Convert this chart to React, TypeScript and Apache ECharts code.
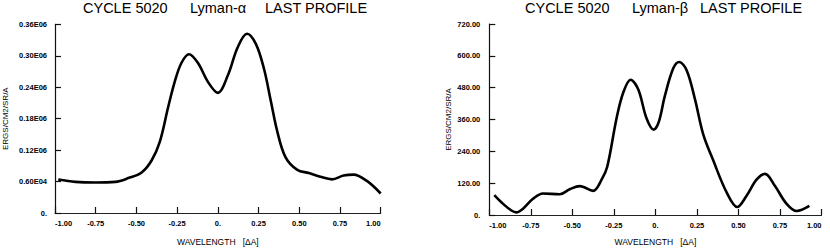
import React, { useEffect, useRef } from "react";
import * as echarts from "echarts";

const titleParts = ["CYCLE 5020", "LAST PROFILE"];
const lyaName = "Lyman-α";
const lybName = "Lyman-β";
const yName = "ERGS/CM2/SR/A";
const xName = "WAVELENGTH   [ΔA]";

const xTicks = [-1, -0.75, -0.5, -0.25, 0, 0.25, 0.5, 0.75, 1];
const xTickLabels = ["-1.00", "-0.75", "-0.50", "-0.25", "0.", "0.25", "0.50", "0.75", "1.00"];

const lyaTickLabels = ["0.", "0.60E04", "0.12E06", "0.18E06", "0.24E06", "0.30E06", "0.36E06"];
const lybTickLabels = ["0.", "120.00", "240.00", "360.00", "480.00", "600.00", "720.00"];

const lyaWave = [-0.98, -0.874, -0.752, -0.63, -0.549, -0.468, -0.407, -0.356, -0.305, -0.265, -0.224, -0.177, -0.122, -0.061, 0.0, 0.061, 0.122, 0.179, 0.234, 0.284, 0.325, 0.366, 0.416, 0.488, 0.559, 0.63, 0.701, 0.772, 0.833, 0.915, 1.0];
const lyaFlux = [64000, 59400, 58200, 59400, 66600, 77400, 100200, 136200, 202200, 250200, 286200, 303000, 286200, 250200, 229200, 262200, 316200, 342000, 322200, 274200, 214200, 154200, 106200, 82200, 76200, 69000, 64200, 71400, 73200, 61200, 37200];

const lybWave = [-0.97, -0.917, -0.867, -0.837, -0.797, -0.737, -0.677, -0.576, -0.516, -0.455, -0.375, -0.324, -0.29, -0.234, -0.194, -0.149, -0.103, -0.053, -0.01, 0.02, 0.057, 0.107, 0.143, 0.188, 0.238, 0.288, 0.348, 0.429, 0.493, 0.549, 0.61, 0.66, 0.72, 0.79, 0.85, 0.927];
const lybFlux = [75, 42, 17, 10, 24, 61, 81, 78, 97, 109, 91, 133, 182, 364, 461, 510, 473, 364, 322, 350, 449, 552, 577, 546, 437, 304, 206, 85, 30, 73, 134, 155, 109, 42, 15, 34];

const FONT = "'Liberation Sans', Arial, Helvetica, sans-serif";

function xLabel(v: number) {
  const i = xTicks.findIndex((t) => Math.abs(t - v) < 1e-6);
  return i >= 0 ? xTickLabels[i] : "";
}

function makeXAxis(gridIndex: number, gap: number) {
  return {
    type: "value",
    gridIndex,
    min: -1,
    max: 1,
    interval: 0.25,
    name: xName,
    nameLocation: "middle",
    nameGap: gap,
    nameTextStyle: { fontFamily: FONT, fontSize: 8.5, color: "#000" },
    axisLine: { show: true, onZero: false, lineStyle: { color: "#222", width: 1.2 } },
    axisTick: { show: true, inside: true, length: 6, lineStyle: { color: "#111", width: 1.2 } },
    axisLabel: {
      formatter: (v: number) => xLabel(v),
      fontFamily: FONT,
      fontSize: 7.5,
      fontWeight: "bold",
      color: "#000",
      margin: 6,
      alignMinLabel: "left",
      alignMaxLabel: "right",
    },
    splitLine: { show: false },
  };
}

function makeYAxis(gridIndex: number, max: number, labels: string[], gap: number, labelMargin: number) {
  const step = max / (labels.length - 1);
  return {
    type: "value",
    gridIndex,
    position: "left",
    min: 0,
    max,
    interval: step,
    name: yName,
    nameLocation: "middle",
    nameGap: gap,
    nameRotate: 90,
    nameTextStyle: { fontFamily: FONT, fontSize: 8, color: "#000" },
    axisLine: { show: true, onZero: false, lineStyle: { color: "#111", width: 1.2 } },
    axisTick: { show: true, inside: true, length: 6, lineStyle: { color: "#111", width: 1.2 } },
    axisLabel: {
      formatter: (v: number) => labels[Math.round(v / step)] ?? "",
      fontFamily: FONT,
      fontSize: 7.5,
      fontWeight: "bold",
      color: "#000",
      margin: labelMargin,
    },
    splitLine: { show: false },
  };
}

function titleTexts(x0: number, xMid: number, xEnd: number, mid: string) {
  const st = { fontFamily: FONT, fontSize: 14.5, fill: "#000" };
  return [
    { type: "text", left: x0, top: 0.5, style: { ...st, text: titleParts[0] } },
    { type: "text", left: xMid, top: 0.5, style: { ...st, text: mid } },
    { type: "text", left: xEnd, top: 0.5, style: { ...st, text: titleParts[1] } },
  ];
}

export default function App() {
  const ref = useRef<HTMLDivElement>(null);
  useEffect(() => {
    if (!ref.current) return;
    const chart = echarts.init(ref.current, undefined, { renderer: "svg" });
    chart.setOption({
      animation: false,
      backgroundColor: "#fff",
      grid: [
        { left: 52.7, top: 24.3, width: 328, height: 196.4 },
        { left: 489.3, top: 24, width: 332.2, height: 197.5 },
      ],
      xAxis: [makeXAxis(0, 24), makeXAxis(1, 22)],
      yAxis: [
        makeYAxis(0, 360000, lyaTickLabels, 46, 8),
        makeYAxis(1, 720, lybTickLabels, 37, 9),
      ],
      series: [
        {
          type: "line",
          xAxisIndex: 0,
          yAxisIndex: 0,
          data: lyaWave.map((w, i) => [w, lyaFlux[i]]),
          smooth: 0.35,
          showSymbol: false,
          lineStyle: { color: "#000", width: 2.6 },
        },
        {
          type: "line",
          xAxisIndex: 1,
          yAxisIndex: 1,
          data: lybWave.map((w, i) => [w, lybFlux[i]]),
          smooth: 0.35,
          showSymbol: false,
          lineStyle: { color: "#000", width: 2.6 },
        },
      ],
      graphic: [
        ...titleTexts(83, 190, 265, lyaName),
        ...titleTexts(525, 632, 700, lybName),
      ],
    });
    return () => chart.dispose();
  }, []);
  return (
    <div
      ref={ref}
      style={{ position: "absolute", left: 0, top: 0, width: 830, height: 251, background: "#fff" }}
    />
  );
}
